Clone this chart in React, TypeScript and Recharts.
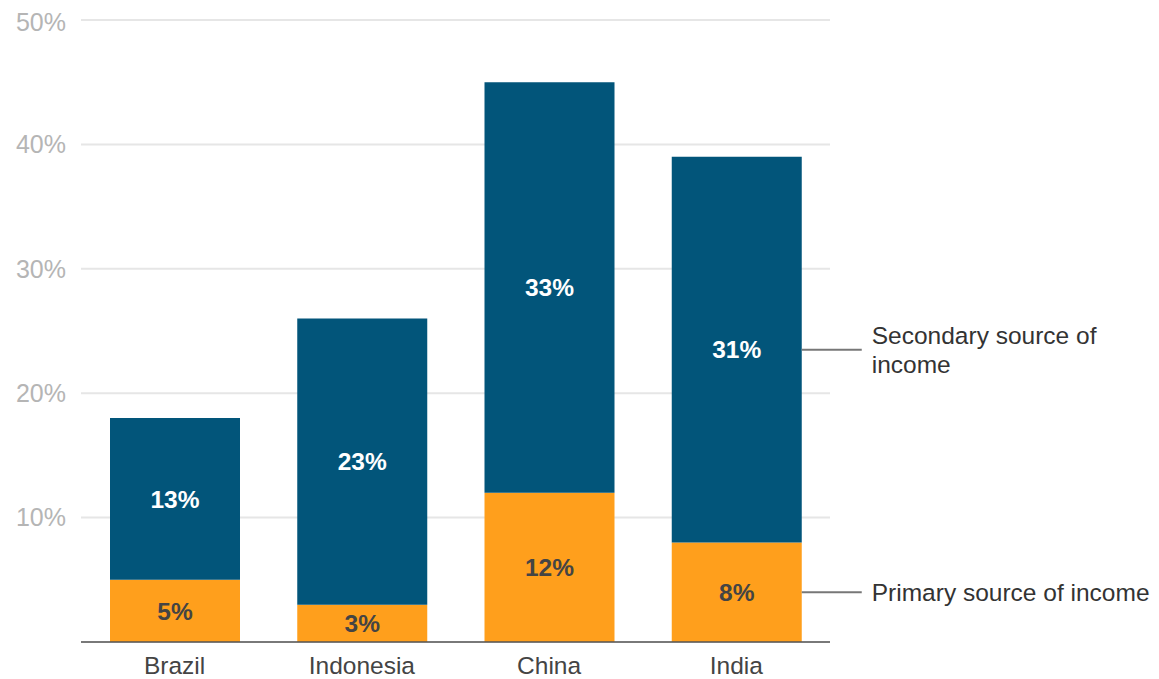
import { Bar, BarChart, CartesianGrid, LabelList, XAxis, YAxis } from "recharts";

const countries = ["Brazil", "Indonesia", "China", "India"];
const primary = [5, 3, 12, 8];
const secondary = [13, 23, 33, 31];
const yTicks = [0, 10, 20, 30, 40, 50];

const data = countries.map((country, i) => ({
  country,
  primary: primary[i],
  secondary: secondary[i],
}));

const FONT = "'Liberation Sans', Arial, sans-serif";
const BLUE = "#02557a";
const ORANGE = "#ff9f1c";

function endLabel(lines: string[]) {
  return (props: any) => {
    const { x, y, width, height, index } = props;
    if (index !== countries.length - 1) return null;
    const x0 = Number(x) + Number(width);
    const cy = Number(y) + Number(height) / 2;
    const lh = 29;
    const top = cy - ((lines.length - 1) * lh) / 2;
    return (
      <g>
        <line x1={x0} x2={x0 + 60} y1={cy} y2={cy} stroke="#777" strokeWidth={2} />
        {lines.map((l, k) => (
          <text
            key={k}
            x={x0 + 70}
            y={top + k * lh}
            fontSize={24.5}
            fill="#333"
            fontFamily={FONT}
            dominantBaseline="central"
          >
            {l}
          </text>
        ))}
      </g>
    );
  };
}

export default function App() {
  return (
    <BarChart
      width={1151}
      height={671}
      data={data}
      margin={{ top: 12, right: 329, left: 0, bottom: 7 }}
      barSize={130}
      style={{ fontFamily: FONT, overflow: "visible" }}
    >
      <CartesianGrid vertical={false} stroke="#e6e6e6" strokeWidth={2} />
      <XAxis
        dataKey="country"
        axisLine={{ stroke: "#555", strokeWidth: 1.5 }}
        tickLine={false}
        tickMargin={9}
        height={30}
        tick={{ fontSize: 24.5, fill: "#444", fontFamily: FONT }}
      />
      <YAxis
        domain={[0, 50]}
        ticks={yTicks}
        width={73}
        axisLine={false}
        tickLine={false}
        tickMargin={9}
        tickFormatter={(v: number) => (v === 0 ? "" : `${v}%`)}
        tick={{ fontSize: 25, fill: "#b5b5b5", fontFamily: FONT }}
      />
      <Bar dataKey="primary" stackId="a" fill={ORANGE} isAnimationActive={false}>
        <LabelList
          dataKey="primary"
          position="center"
          formatter={(v: any) => `${v}%`}
          style={{ fontSize: 24.5, fontWeight: 700, fill: "#444", fontFamily: FONT }}
        />
        <LabelList dataKey="primary" content={endLabel(["Primary source of income"])} />
      </Bar>
      <Bar dataKey="secondary" stackId="a" fill={BLUE} isAnimationActive={false}>
        <LabelList
          dataKey="secondary"
          position="center"
          formatter={(v: any) => `${v}%`}
          style={{ fontSize: 24.5, fontWeight: 700, fill: "#fff", fontFamily: FONT }}
        />
        <LabelList dataKey="secondary" content={endLabel(["Secondary source of", "income"])} />
      </Bar>
    </BarChart>
  );
}
